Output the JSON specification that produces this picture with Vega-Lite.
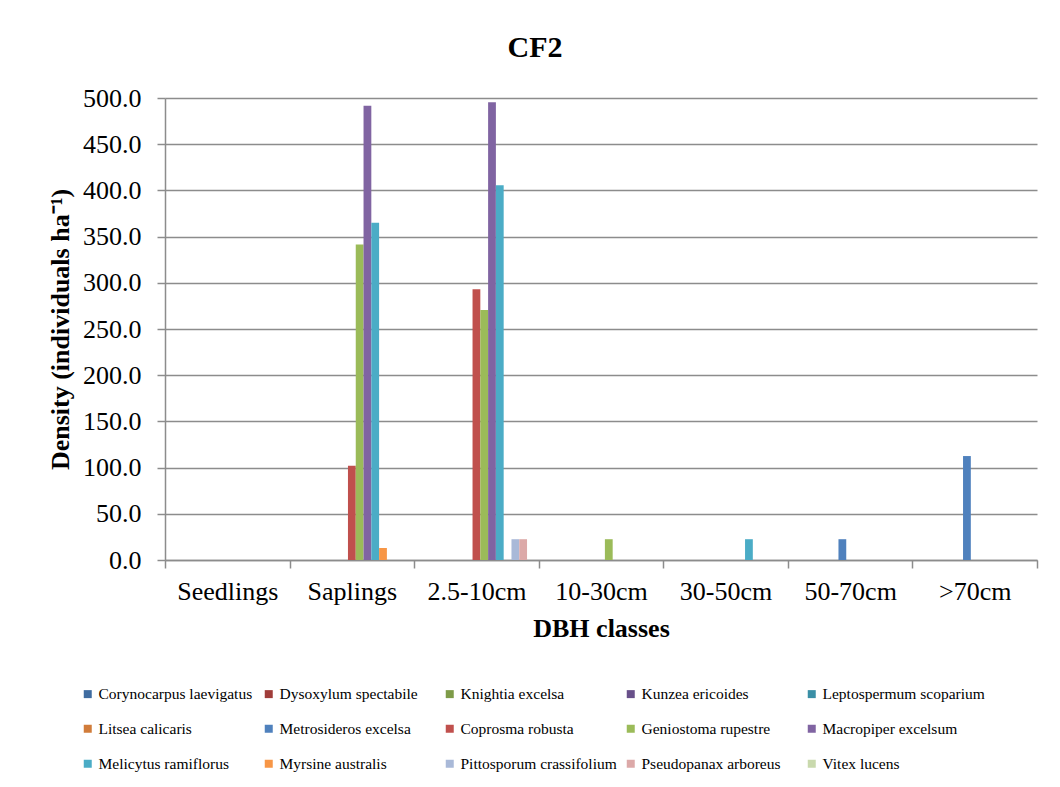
{
  "$schema": "https://vega.github.io/schema/vega-lite/v6.json",
  "width": 872,
  "height": 462,
  "autosize": {"type": "none"},
  "padding": {"left": 165, "top": 98, "right": 23, "bottom": 227},
  "background": "white",
  "title": {
    "text": "CF2",
    "font": "Liberation Serif",
    "fontSize": 30,
    "fontWeight": "bold",
    "color": "black",
    "anchor": "middle",
    "frame": "group",
    "baseline": "alphabetic",
    "offset": 41,
    "dy": 43,
    "dx": -66
  },
  "data": {
    "values": [
      {"dbh": "Saplings", "species": "Coprosma robusta", "density": 102},
      {"dbh": "Saplings", "species": "Geniostoma rupestre", "density": 341.5},
      {"dbh": "Saplings", "species": "Macropiper excelsum", "density": 491.5},
      {"dbh": "Saplings", "species": "Melicytus ramiflorus", "density": 365},
      {"dbh": "Saplings", "species": "Myrsine australis", "density": 13},
      {"dbh": "2.5-10cm", "species": "Coprosma robusta", "density": 293},
      {"dbh": "2.5-10cm", "species": "Geniostoma rupestre", "density": 270.5},
      {"dbh": "2.5-10cm", "species": "Macropiper excelsum", "density": 495.5},
      {"dbh": "2.5-10cm", "species": "Melicytus ramiflorus", "density": 405.5},
      {"dbh": "2.5-10cm", "species": "Pittosporum crassifolium", "density": 22.5},
      {"dbh": "2.5-10cm", "species": "Pseudopanax arboreus", "density": 22.5},
      {"dbh": "10-30cm", "species": "Geniostoma rupestre", "density": 22.5},
      {"dbh": "30-50cm", "species": "Melicytus ramiflorus", "density": 22.5},
      {"dbh": "50-70cm", "species": "Metrosideros excelsa", "density": 22.5},
      {"dbh": ">70cm", "species": "Metrosideros excelsa", "density": 112.5}
    ]
  },
  "mark": {"type": "bar"},
  "encoding": {
    "x": {
      "field": "dbh",
      "type": "nominal",
      "sort": ["Seedlings", "Saplings", "2.5-10cm", "10-30cm", "30-50cm", "50-70cm", ">70cm"],
      "scale": {
        "domain": ["Seedlings", "Saplings", "2.5-10cm", "10-30cm", "30-50cm", "50-70cm", ">70cm"],
        "paddingInner": 0,
        "paddingOuter": 0
      },
      "axis": {
        "title": "DBH classes",
        "labelAngle": 0,
        "tickBand": "extent",
        "tickSize": 8,
        "tickColor": "#8c8c8c",
        "tickWidth": 1.5,
        "domainColor": "#8c8c8c",
        "domainWidth": 1.5,
        "labelFont": "Liberation Serif",
        "labelFontSize": 26,
        "labelColor": "black",
        "labelPadding": 10,
        "titleFont": "Liberation Serif",
        "titleFontSize": 26,
        "titleFontWeight": "bold",
        "titleColor": "black",
        "titlePadding": 11
      }
    },
    "xOffset": {
      "field": "species",
      "type": "nominal",
      "scale": {
        "domain": ["Corynocarpus laevigatus", "Dysoxylum spectabile", "Knightia excelsa", "Kunzea ericoides", "Leptospermum scoparium", "Litsea calicaris", "Metrosideros excelsa", "Coprosma robusta", "Geniostoma rupestre", "Macropiper excelsum", "Melicytus ramiflorus", "Myrsine australis", "Pittosporum crassifolium", "Pseudopanax arboreus", "Vitex lucens"],
        "paddingInner": 0,
        "paddingOuter": 0.5
      }
    },
    "y": {
      "field": "density",
      "type": "quantitative",
      "scale": {"domain": [0, 500], "nice": false},
      "axis": {
        "title": "Density (individuals ha⁻¹)",
        "values": [0, 50, 100, 150, 200, 250, 300, 350, 400, 450, 500],
        "format": ".1f",
        "grid": true,
        "gridColor": "#8c8c8c",
        "gridWidth": 1.5,
        "tickSize": 8,
        "tickColor": "#8c8c8c",
        "tickWidth": 1.5,
        "domainColor": "#8c8c8c",
        "domainWidth": 1.5,
        "labelFont": "Liberation Serif",
        "labelFontSize": 26,
        "labelColor": "black",
        "labelPadding": 16,
        "titleFont": "Liberation Serif",
        "titleFontSize": 26,
        "titleFontWeight": "bold",
        "titleColor": "black",
        "titlePadding": 9
      }
    },
    "color": {
      "field": "species",
      "type": "nominal",
      "title": null,
      "scale": {
        "domain": ["Corynocarpus laevigatus", "Dysoxylum spectabile", "Knightia excelsa", "Kunzea ericoides", "Leptospermum scoparium", "Litsea calicaris", "Metrosideros excelsa", "Coprosma robusta", "Geniostoma rupestre", "Macropiper excelsum", "Melicytus ramiflorus", "Myrsine australis", "Pittosporum crassifolium", "Pseudopanax arboreus", "Vitex lucens"],
        "range": ["#3f6ca0", "#a03d3a", "#7e9b48", "#68508a", "#3a8fa6", "#d17c3a", "#4f81bd", "#c0504d", "#9bbb59", "#8064a2", "#4bacc6", "#f79646", "#a9b9d8", "#dca9a8", "#c9d9ad"]
      },
      "legend": {
        "orient": "none",
        "legendX": -85,
        "legendY": 588,
        "direction": "horizontal",
        "columns": 5,
        "gridAlign": "all",
        "columnPadding": 0,
        "rowPadding": 18,
        "symbolType": "square",
        "symbolSize": 64,
        "symbolStrokeWidth": 0,
        "labelOffset": 3,
        "labelFont": "Liberation Serif",
        "labelFontSize": 15.5,
        "labelColor": "black",
        "labelLimit": 400,
        "padding": 0
      }
    }
  },
  "config": {
    "view": {"stroke": null},
    "axis": {"labelFlush": false, "labelOverlap": false}
  }
}
